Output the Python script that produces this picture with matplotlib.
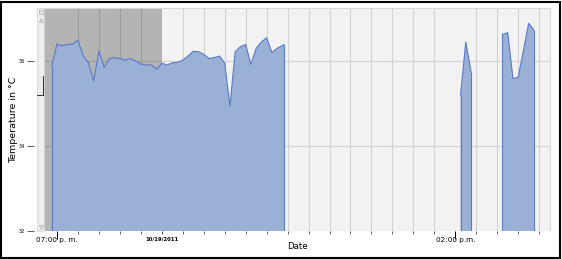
import matplotlib
matplotlib.use("Agg")
import matplotlib.pyplot as plt
from matplotlib.lines import Line2D
from matplotlib.patches import Rectangle
import pandas as pd

# Temperature log, 15-minute readings, with gaps between sessions
seg1_times = [
    "2011-10-18 18:45", "2011-10-18 19:00", "2011-10-18 19:15", "2011-10-18 19:30",
    "2011-10-18 19:45", "2011-10-18 20:00", "2011-10-18 20:15", "2011-10-18 20:30",
    "2011-10-18 20:45", "2011-10-18 21:00", "2011-10-18 21:15", "2011-10-18 21:30",
    "2011-10-18 21:45", "2011-10-18 22:00", "2011-10-18 22:15", "2011-10-18 22:30",
    "2011-10-18 22:45", "2011-10-18 23:00", "2011-10-18 23:15", "2011-10-18 23:30",
    "2011-10-18 23:45", "2011-10-19 00:00", "2011-10-19 00:15", "2011-10-19 00:30",
    "2011-10-19 00:45", "2011-10-19 01:00", "2011-10-19 01:15", "2011-10-19 01:30",
    "2011-10-19 01:45", "2011-10-19 02:00", "2011-10-19 02:15", "2011-10-19 02:30",
    "2011-10-19 02:45", "2011-10-19 03:00", "2011-10-19 03:15", "2011-10-19 03:30",
    "2011-10-19 03:45", "2011-10-19 04:00", "2011-10-19 04:15", "2011-10-19 04:30",
    "2011-10-19 04:45", "2011-10-19 05:00", "2011-10-19 05:15", "2011-10-19 05:30",
    "2011-10-19 05:50",
]
seg1_temps = [
    35.88, 36.40, 36.36, 36.39, 36.40, 36.49, 36.12, 35.96,
    35.53, 36.24, 35.85, 36.06, 36.08, 36.06, 36.02, 36.06,
    36.00, 35.93, 35.91, 35.91, 35.81, 35.95, 35.91, 35.96,
    35.97, 36.02, 36.12, 36.23, 36.22, 36.16, 36.06, 36.08,
    36.12, 35.95, 34.94, 36.22, 36.34, 36.39, 35.92, 36.30,
    36.45, 36.55, 36.20, 36.30, 36.39,
]
seg2_times = ["2011-10-19 14:15", "2011-10-19 14:30", "2011-10-19 14:45"]
seg2_temps = [35.20, 36.45, 35.75]
seg3_times = [
    "2011-10-19 16:15", "2011-10-19 16:30", "2011-10-19 16:45", "2011-10-19 17:00",
    "2011-10-19 17:15", "2011-10-19 17:30", "2011-10-19 17:45",
]
seg3_temps = [36.63, 36.67, 35.59, 35.62, 36.25, 36.89, 36.73]

y_ticks = [32, 34, 36]
x_start, x_end = "2011-10-18 18:22:48", "2011-10-19 18:31:00"
shade_end = "2011-10-19 00:00"
label_times = ["2011-10-18 19:00", "2011-10-19 00:00", "2011-10-19 14:00"]
label_texts = ["07:00 p. m.", "10/19/2011", "02:00 p.m."]

W, H = 562, 259
fig = plt.figure(figsize=(W / 100, H / 100), dpi=100)
fig.patch.set_facecolor("white")
ax = fig.add_axes([44 / W, 28 / H, 506 / W, 223 / H])
ax.set_facecolor("#f2f2f2")

fill_c = "#9ab1d5"
line_c = "#5a79c6"
for times, temps in [(seg1_times, seg1_temps), (seg2_times, seg2_temps), (seg3_times, seg3_temps)]:
    t = pd.to_datetime(times)
    ax.fill_between(t, 32, temps, facecolor=fill_c, edgecolor="none", zorder=3)
    ax.plot(t, temps, color=line_c, lw=0.8, zorder=4)
    ax.vlines([t[0], t[-1]], 32, [temps[0], temps[-1]], color=line_c, lw=0.8, zorder=4)

ax.set_xlim(pd.Timestamp(x_start), pd.Timestamp(x_end))
ax.set_ylim(32, 37.25)

# hourly minor ticks + grid, labelled major ticks
hours = pd.date_range("2011-10-18 19:00", "2011-10-19 18:00", freq="h")
ax.set_xticks(hours, minor=True)
ax.set_xticks(pd.to_datetime(label_times))
ax.set_xticklabels(label_texts)
ax.grid(axis="x", which="minor", color="#d2d2d2", lw=0.8, zorder=1)
ax.set_yticks(y_ticks)
ax.set_yticklabels([str(v) for v in y_ticks])
ax.grid(axis="y", color="#d2d2d2", lw=0.8, zorder=1)
ax.set_axisbelow(True)

# shaded (selected) range
ax.axvspan(pd.Timestamp(x_start), pd.Timestamp(shade_end), color="black", alpha=0.255,
           lw=0, zorder=2)

ax.tick_params(axis="x", which="minor", length=2.5, width=0.6, color="#444444")
ax.tick_params(axis="x", which="major", length=5.8, width=0.7, color="black",
               labelsize=5.2, pad=-1.7)
majors = ax.xaxis.get_major_ticks()
majors[1].tick1line.set_markersize(2.5)
majors[1].tick1line.set_markeredgecolor("#444444")
lbl = ax.get_xticklabels()[1]
lbl.set_fontsize(3.8)
lbl.set_fontweight("bold")

ax.spines["left"].set_position(("outward", 7))
ax.spines["left"].set_visible(False)
ax.tick_params(axis="y", length=5.2, width=0.6, color="#444444", pad=1.5, labelsize=3.6)
for s in ("top", "right"):
    ax.spines[s].set_color("#d8d8d8")
    ax.spines[s].set_linewidth(0.8)
ax.spines["bottom"].set_visible(False)

ax.set_xlabel("Date", fontsize=6.2)
ax.xaxis.set_label_coords(0.5, -0.05)
ax.set_ylabel("Temperature in °C", fontsize=6.8)
ax.yaxis.set_label_coords(-0.052, 0.5)

# scroll strip beside the y axis
def px(x, y):
    return x / W, 1 - y / H

fig.add_artist(Rectangle(px(37, 231), 7 / W, 223 / H, transform=fig.transFigure,
                         facecolor="#ececec", edgecolor="#d0d0d0", lw=0.5))
fig.add_artist(Line2D([px(43, 0)[0]] * 2, [px(0, 76)[1], px(0, 95)[1]],
                      transform=fig.transFigure, color="#333333", lw=0.7))
fig.add_artist(Line2D([px(37, 0)[0], px(43, 0)[0]], [px(0, 95)[1]] * 2,
                      transform=fig.transFigure, color="#333333", lw=0.7))
for (mx, my, mk) in [(40.5, 12, "s"), (40.5, 20, "^"), (40.5, 227, "v")]:
    fig.add_artist(Line2D([px(mx, 0)[0]], [px(0, my)[1]], transform=fig.transFigure,
                          marker=mk, markersize=3, markerfacecolor="#e4e4e4",
                          markeredgecolor="#a8a8a8", markeredgewidth=0.4, ls="none"))

# outer frame
fig.add_artist(Rectangle((1 / W, 1.5 / H), 559 / W, 256 / H, transform=fig.transFigure,
                         fill=False, edgecolor="black", lw=1.5))

fig.savefig("out.png", dpi=100)
